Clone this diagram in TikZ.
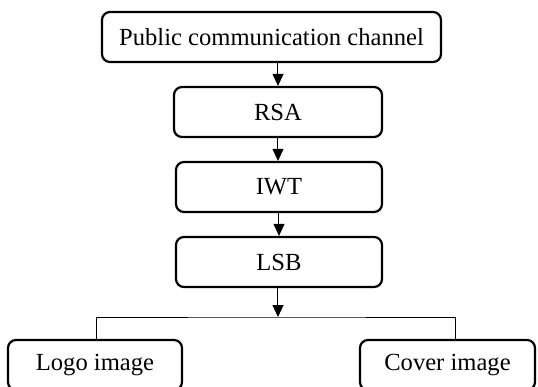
\documentclass[tikz,border=0pt]{standalone}
\usepackage{fontspec}
\setmainfont{Liberation Serif}
\usetikzlibrary{arrows.meta, positioning}
\tikzset{
  sbox/.style={draw=black, line width=1.1pt, rounded corners=4pt,
               minimum height=25pt, inner sep=2pt,
               font=\fontsize{12.3}{14}\selectfont},
  arr/.style={-{Triangle[length=6pt,width=5.5pt]}, line width=0.5pt},
  link/.style={line width=0.5pt},
}
\begin{document}
\begin{tikzpicture}[x=0.5pt, y=-0.5pt]
  \useasboundingbox (0,0) rectangle (538,387);
  \node[sbox, minimum width=169.5pt] (pub) at (271.5,37) {Public communication channel};
  \node[sbox, minimum width=104pt] (rsa) at (278,112) {RSA};
  \node[sbox, minimum width=103pt] (iwt) at (279,187) {IWT};
  \node[sbox, minimum width=103pt] (lsb) at (279,262) {LSB};
  \node[sbox, minimum width=87pt] (logo) at (95,365) {Logo image};
  \node[sbox, minimum width=87.5pt] (cover) at (447.5,365) {Cover image};
  \coordinate (split) at (278,317);
  % main chain
  \draw[arr] (rsa.north |- pub.south) -- (rsa.north);
  \draw[arr] (rsa.south) -- (rsa.south |- iwt.north);
  \draw[arr] (iwt.south) -- (iwt.south |- lsb.north);
  \draw[arr] (split |- lsb.south) -- (split);
  % branches
  \draw[link] ([xshift=1pt]logo.north) |- (split) -| ([xshift=4pt]cover.north);
\end{tikzpicture}
\end{document}
